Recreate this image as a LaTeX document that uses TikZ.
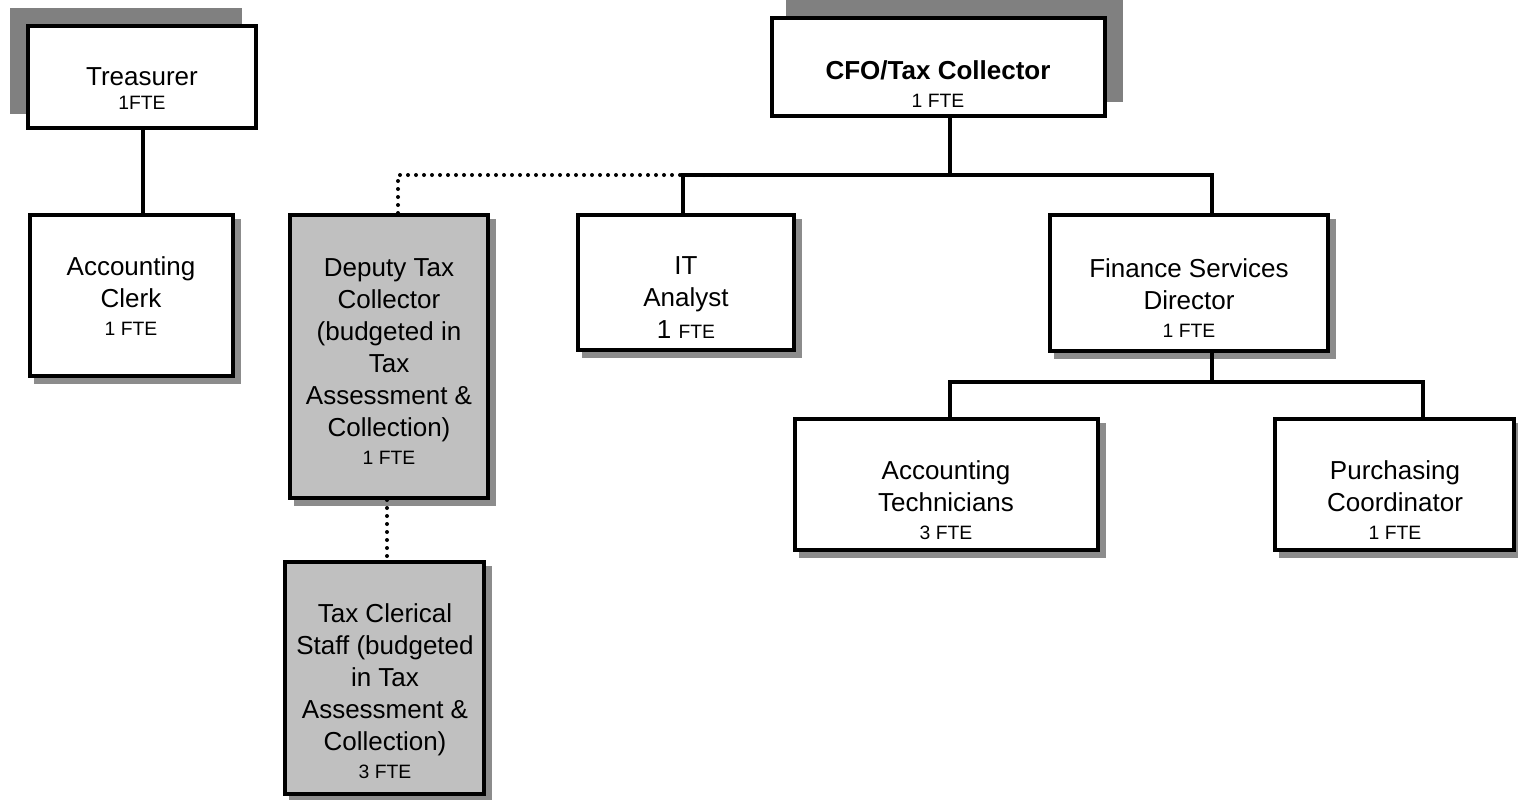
\documentclass[tikz,border=0pt]{standalone}
\usepackage{fontspec}
\setmainfont{Liberation Sans}
\usetikzlibrary{fit,backgrounds}
\definecolor{boxgray}{HTML}{C0C0C0}
\definecolor{shadowgray}{HTML}{808080}
\definecolor{smallshadow}{HTML}{8C8C8C}
\newcommand{\ftesz}{\fontsize{14.5}{17}\selectfont}
\tikzset{
  box/.style={draw, line width=3pt, fill=white, inner sep=0pt},
  graybox/.style={box, fill=boxgray},
  txt/.style={align=center, font=\fontsize{19.5}{24}\selectfont, inner sep=0pt},
  conn/.style={line width=2.6pt},
  dotline/.style={line width=3pt, line cap=round, dash pattern=on 0pt off 6pt},
  bigshadow/.style={fill=shadowgray},
  shad/.style={fill=smallshadow},
}
\begin{document}
\begin{tikzpicture}[x=0.75pt,y=-0.75pt]
\useasboundingbox (0,0) rectangle (1518,800);
% boxes
\node[box, fit={(28,26) (256,128)}] (tre) {};
\node[box, fit={(772,18) (1105,116)}] (cfo) {};
\node[box, fit={(30,215) (233,376)}] (clerk) {};
\node[graybox, fit={(290,215) (488,498)}] (dep) {};
\node[box, fit={(578,215) (794,350)}] (it) {};
\node[box, fit={(1050,215) (1328,351)}] (fin) {};
\node[box, fit={(795,419) (1098,550)}] (tech) {};
\node[box, fit={(1275,419) (1514,550)}] (pur) {};
\node[graybox, fit={(285,562) (484,794)}] (tax) {};
% shadows
\begin{scope}[on background layer]
  \fill[bigshadow] ([shift={(-16,-16)}]tre.north west) rectangle ([shift={(-16,-16)}]tre.south east);
  \fill[bigshadow] ([shift={(16,-16)}]cfo.north west) rectangle ([shift={(16,-16)}]cfo.south east);
  \foreach \n in {clerk,dep,it,fin,tech,pur,tax}
    \fill[shad] ([shift={(6,6)}]\n.north west) rectangle ([shift={(6,6)}]\n.south east);
\end{scope}
% texts
\node[txt] (tre-t) at (142,89) {Treasurer\\[-6pt]{\ftesz 1FTE}};
\node[txt] (cfo-t) at (938,84) {\textbf{CFO/Tax Collector}\\[-3pt]{\ftesz 1 FTE}};
\node[txt] (clerk-t) at (131,296) {Accounting\\Clerk\\[-3pt]{\ftesz 1 FTE}};
\node[txt] (dep-t) at (389,362) {Deputy Tax\\Collector\\(budgeted in\\Tax\\Assessment \&\\Collection)\\[-3pt]{\ftesz 1 FTE}};
\node[txt] (it-t) at (686,298) {IT\\Analyst\\1 {\ftesz FTE}};
\node[txt] (fin-t) at (1189,298) {Finance Services\\Director\\[-3pt]{\ftesz 1 FTE}};
\node[txt] (tech-t) at (946,500) {Accounting\\Technicians\\[-3pt]{\ftesz 3 FTE}};
\node[txt] (pur-t) at (1395,500) {Purchasing\\Coordinator\\[-3pt]{\ftesz 1 FTE}};
\node[txt] (tax-t) at (385,691) {Tax Clerical\\Staff (budgeted\\in Tax\\Assessment \&\\Collection)\\[-3pt]{\ftesz 3 FTE}};
% junction coordinates
\coordinate (jc) at (950,175);
\coordinate (jit) at (683,175);
\coordinate (jfin) at (1212,175);
\coordinate (jdep) at (398,175);
\coordinate (jdotend) at (742,175);
\coordinate (jf2) at (1212,382);
\coordinate (jtech) at (950,382);
\coordinate (jpur) at (1423,382);
% connectors
\draw[conn] (tre.south -| 143,0) -- (clerk.north -| 143,0);
\draw[dotline] (jdep |- dep.north) -- (jdep) -- (jdotend);
\draw[conn] (cfo.south -| jc) -- (jc);
\draw[conn] (it.north -| jit) -- (jit) -- (jfin) -- (fin.north -| jfin);
\draw[conn] (fin.south -| jf2) -- (jf2);
\draw[conn] (tech.north -| jtech) -- (jtech) -- (jpur) -- (pur.north -| jpur);
\draw[dotline] (dep.south -| 387,0) -- (tax.north -| 387,0);
\end{tikzpicture}
\end{document}
